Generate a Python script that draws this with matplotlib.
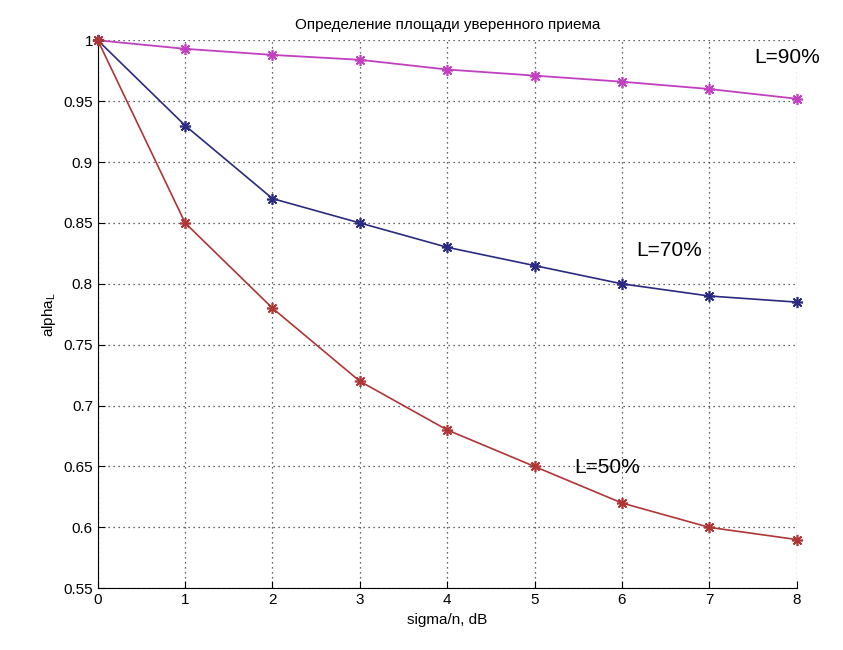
import matplotlib
matplotlib.use("Agg")
import matplotlib.pyplot as plt

plt.rcParams["font.family"] = ["Liberation Sans", "DejaVu Sans"]
plt.rcParams["mathtext.fontset"] = "custom"
plt.rcParams["mathtext.rm"] = "Liberation Sans"
plt.rcParams["mathtext.it"] = "Liberation Sans"

x = [0, 1, 2, 3, 4, 5, 6, 7, 8]
L90 = [1.0, 0.993, 0.988, 0.984, 0.976, 0.971, 0.966, 0.960, 0.952]
L70 = [1.0, 0.930, 0.870, 0.850, 0.830, 0.815, 0.800, 0.790, 0.785]
L50 = [1.0, 0.850, 0.780, 0.720, 0.680, 0.650, 0.620, 0.600, 0.590]

fig = plt.figure(figsize=(8.43, 6.5), dpi=100)
ax = fig.add_axes([0.116, 0.095, 0.829, 0.843])

star = (8, 2, 0)
ax.plot(x, L90, color="#C040C0", lw=1.3, marker=star, ms=8, mew=1.2, clip_on=False, zorder=3)
ax.plot(x, L70, color="#2A2A80", lw=1.2, marker=star, ms=8, mew=1.2, clip_on=False, zorder=3)
ax.plot(x, L50, color="#B03535", lw=1.2, marker=star, ms=8, mew=1.2, clip_on=False, zorder=3)

ax.text(7.52, 0.986, "L=90%", fontsize=15, va="center", ha="left")
ax.text(6.16, 0.827, "L=70%", fontsize=15, va="center", ha="left")
ax.text(5.45, 0.649, "L=50%", fontsize=15, va="center", ha="left")

ax.set_xlim(0, 8)
ax.set_ylim(0.55, 1.0)
ax.set_xticks(range(0, 9))
ax.set_yticks([0.55, 0.6, 0.65, 0.7, 0.75, 0.8, 0.85, 0.9, 0.95, 1.0])
ax.set_yticklabels(["0.55", "0.6", "0.65", "0.7", "0.75", "0.8", "0.85", "0.9", "0.95", "1"])
ax.grid(True, linestyle=(0, (1, 3)), color="#333333", lw=0.9)
ax.tick_params(direction="in", labelsize=11, length=5)
ax.spines["top"].set_visible(False)
ax.spines["right"].set_visible(False)
ax.set_title("Определение площади уверенного приема", fontsize=11, pad=8)
ax.set_xlabel("sigma/n, dB", fontsize=11)
ax.set_ylabel("alpha$_{\\mathrm{L}}$", fontsize=11)

fig.savefig("out.png", dpi=100)
